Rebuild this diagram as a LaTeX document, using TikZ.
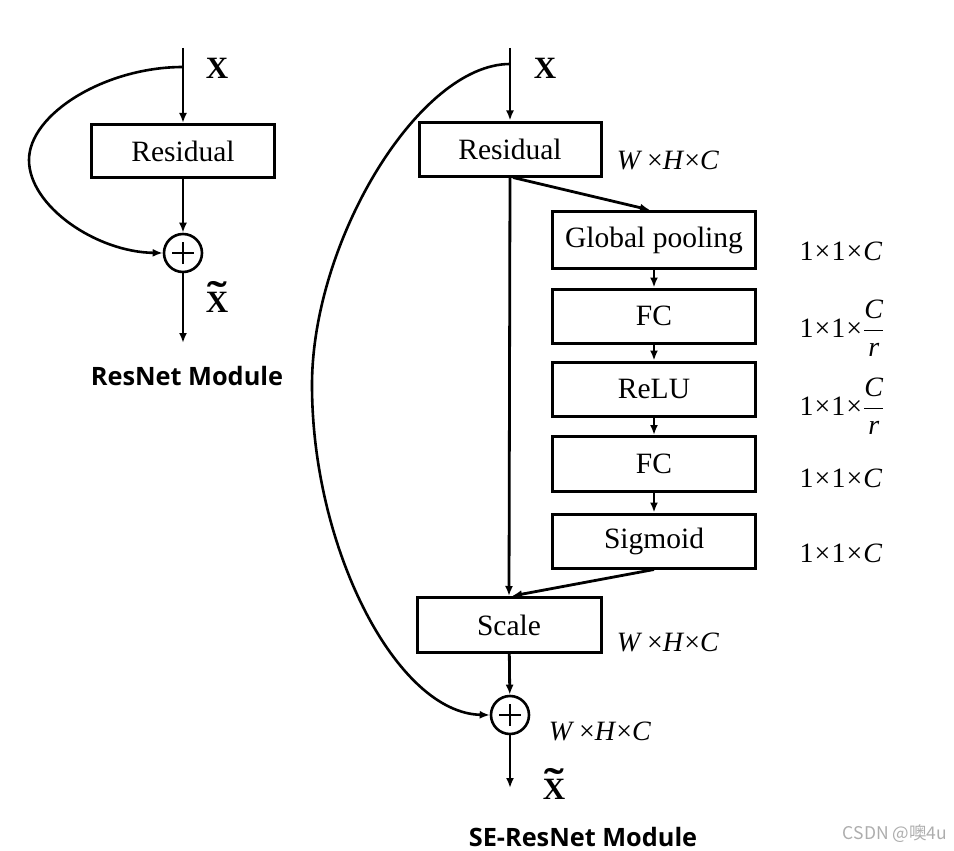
\RequirePackage{fix-cm}
\documentclass[tikz,border=0pt]{standalone}
\usepackage{fontspec}
\setmainfont{Liberation Serif}
\newfontfamily\modfont{Open Sans}
\newfontfamily\cjk{Noto Sans CJK SC}
\usetikzlibrary{arrows.meta}
\newcommand{\tms}{\kern1pt×\kern1pt}
\newcommand{\xtilde}{\setbox0\hbox{X}\makebox[\wd0][c]{\raisebox{0.1em}[0pt][0pt]{\scalebox{1.9}[1.3]{\char"02DC}}}\kern-\wd0 X}
\tikzset{
  box/.style={draw, line width=3pt, inner sep=0pt, font=\fontsize{29.5}{34}\selectfont},
  arr/.style={line width=2.8pt, -{Latex[length=10pt,width=8pt]}},
  curve/.style={line width=2.6pt, -{Latex[length=10pt,width=8pt]}},
  plusnode/.style={circle, draw, line width=2.6pt, minimum size=38pt, inner sep=0pt,
    path picture={\draw[line width=1.2pt] ([xshift=-11pt]path picture bounding box.center) -- ([xshift=11pt]path picture bounding box.center);
                  \draw[line width=1.2pt] ([yshift=-11pt]path picture bounding box.center) -- ([yshift=11pt]path picture bounding box.center);}},
  xlab/.style={inner sep=0pt, font=\fontsize{31}{34}\selectfont\bfseries},
  dimlab/.style={inner sep=0pt, font=\fontsize{28}{32}\selectfont},
  modlab/.style={inner sep=0pt, anchor=base, font=\fontsize{25.3}{28}\selectfont\modfont\bfseries},
  wmark/.style={inner sep=0pt, anchor=base, text=black!32, font=\fontsize{17.5}{20}\selectfont\cjk}
}
\begin{document}
\begin{tikzpicture}[x=1pt,y=-1pt]
\useasboundingbox (0,0) rectangle (954,851);
% ---------- left: ResNet module ----------
\coordinate (lt) at (183,48);
\coordinate (lsplit) at (183,67);
\node[box, minimum width=183pt, minimum height=53pt] (lres) at (183,151) {Residual};
\node[plusnode] (lplus) at (183,253) {};
\coordinate (lend) at (183,343);
\node[xlab] (lx) at (217,68) {X};
\node[xlab] (lxt) at (217,302) {\xtilde};
\node[modlab] (lmod) at (187,385) {ResNet Module};
\draw[arr] (lt) -- (lres);
\draw[arr] (lres) -- (lplus);
\draw[arr] (lplus) -- (lend);
\draw[curve] (lsplit) .. controls (105,67) and (29,114) .. (29,160)
  .. controls (29,206) and (96,252) .. (lplus.west);
% ---------- right: SE-ResNet module ----------
\coordinate (rt) at (510,48);
\coordinate (rsplit) at (510,64);
\node[box, minimum width=182pt, minimum height=54pt] (rres) at (510,149) {Residual};
\node[box, minimum width=203pt, minimum height=57pt] (gp) at (654,240) {Global pooling};
\node[box, minimum width=203pt, minimum height=54pt] (fc1) at (654,316) {FC};
\node[box, minimum width=203pt, minimum height=54pt] (relu) at (654,389) {ReLU};
\node[box, minimum width=203pt, minimum height=55pt] (fc2) at (654,464) {FC};
\node[box, minimum width=203pt, minimum height=54pt] (sig) at (654,541) {Sigmoid};
\node[box, minimum width=184pt, minimum height=55pt] (scale) at (509,625) {Scale};
\node[plusnode] (rplus) at (510,715) {};
\coordinate (rend) at (510,788);
\node[xlab] (rx) at (545,68) {X};
\node[xlab] (rxt) at (554,789) {\xtilde};
\node[modlab] (rmod) at (583,846) {SE-ResNet Module};
% dimension labels
\node[dimlab] (d1) at (668,160) {\textit{W}\,×\textit{H}×\textit{C}};
\node[dimlab] (d2) at (841,251) {1\tms 1\tms\textit{C}};
\node[dimlab] (d3) at (842,328) {1\tms 1\tms$\displaystyle\frac{\mbox{\itshape C}}{\mbox{\itshape r}}$};
\node[dimlab] (d4) at (842,406) {1\tms 1\tms$\displaystyle\frac{\mbox{\itshape C}}{\mbox{\itshape r}}$};
\node[dimlab] (d5) at (841,478) {1\tms 1\tms\textit{C}};
\node[dimlab] (d6) at (841,553) {1\tms 1\tms\textit{C}};
\node[dimlab] (d7) at (668,642) {\textit{W}\,×\textit{H}×\textit{C}};
\node[dimlab] (d8) at (600,731) {\textit{W}\,×\textit{H}×\textit{C}};
% connectors
\draw[arr] (rt) -- (rres);
\draw[arr] (rres.south) -- (scale.north);
\draw[arr] ([xshift=3pt]rres.south) -- ([xshift=-4pt]gp.north);
\draw[arr] (gp) -- (fc1);
\draw[arr] (fc1) -- (relu);
\draw[arr] (relu) -- (fc2);
\draw[arr] (fc2) -- (sig);
\draw[arr] (sig.south) -- ([xshift=3pt]scale.north);
\draw[arr] (scale) -- (rplus);
\draw[arr] (rplus) -- (rend);
\draw[curve] (rsplit) .. controls (419,64) and (312,241) .. (312,385)
  .. controls (312,549) and (397,713) .. (rplus.west);
% watermark
\node[wmark] (wm) at (895,839) {CSDN @噢4u};
\end{tikzpicture}
\end{document}
